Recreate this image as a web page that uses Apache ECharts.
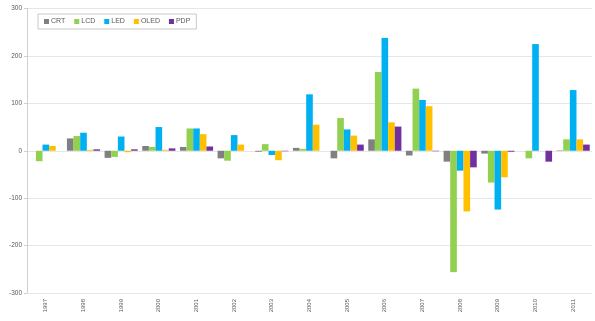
<!DOCTYPE html>
<html>
<head>
<meta charset="utf-8">
<script src="https://cdn.jsdelivr.net/npm/echarts@6/dist/echarts.min.js"></script>
<style>
  html, body { margin: 0; padding: 0; background: #fff; }
  #chart { width: 595px; height: 321px; }
</style>
</head>
<body>
<div id="chart"></div>
<script>
// categories
var years = ['1997', '1998', '1999', '2000', '2001', '2002', '2003', '2004',
  '2005', '2006', '2007', '2008', '2009', '2010', '2011'];

// series values
var crt  = [0, 26, -15, 10, 8, -16, -2, 6, -16, 24, -10, -23, -6, 0, 1];
var lcd  = [-22, 31, -13, 8, 47, -21, 14, 4, 69, 166, 131, -256, -67, -16, 24];
var led  = [13, 38, 30, 50, 47, 33, -9, 119, 45, 238, 107, -42, -124, 225, 128];
var oled = [10, 2, -3, 2, 35, 13, -20, 55, 32, 60, 94, -128, -56, 0, 24];
var pdp  = [0, 3, 3, 5, 9, 0, -1, 0, 13, 51, -1, -35, -2, -23, 13];

var yTicks = [-300, -200, -100, 0, 100, 200, 300];

var myChart = echarts.init(document.getElementById('chart'));

function bar(name, data, color) {
  return {
    name: name,
    type: 'bar',
    data: data,
    barGap: '0%',
    barCategoryGap: '12%',
    itemStyle: { color: color },
    emphasis: { disabled: true }
  };
}

var option = {
  animation: false,
  textStyle: { fontFamily: 'Liberation Sans, Arial, sans-serif' },
  legend: {
    left: 38,
    top: 14,
    padding: [4, 6],
    itemWidth: 5,
    itemHeight: 5,
    itemGap: 9,
    icon: 'rect',
    borderColor: '#c8c8c8',
    borderWidth: 1,
    textStyle: { fontSize: 7, color: '#595959', padding: [0, 0, 0, -3] },
    data: ['CRT', 'LCD', 'LED', 'OLED', 'PDP']
  },
  grid: { left: 27, right: 3, top: 8.5, bottom: 28, containLabel: false },
  xAxis: {
    type: 'category',
    data: years,
    axisLine: { show: false },
    axisTick: { show: false },
    axisLabel: {
      rotate: 90,
      fontSize: 6,
      color: '#595959',
      interval: 0,
      margin: 6
    }
  },
  yAxis: {
    type: 'value',
    min: yTicks[0],
    max: yTicks[yTicks.length - 1],
    interval: 100,
    axisLine: { show: true, lineStyle: { color: '#d0d0d0' } },
    axisTick: { show: true, length: 3, lineStyle: { color: '#d0d0d0' } },
    axisLabel: { fontSize: 6.5, color: '#595959', margin: 5 },
    splitLine: { show: true, lineStyle: { color: '#e6e6e6' } }
  },
  series: [
    bar('CRT', crt, '#808080'),
    bar('LCD', lcd, '#92d050'),
    bar('LED', led, '#00b0f0'),
    bar('OLED', oled, '#ffc000'),
    bar('PDP', pdp, '#7030a0')
  ]
};

myChart.setOption(option, true);
</script>
</body>
</html>
